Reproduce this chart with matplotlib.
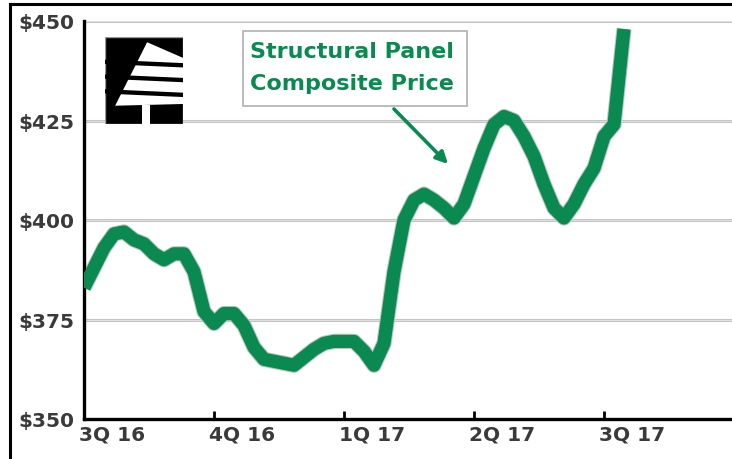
import matplotlib
matplotlib.use("Agg")
import matplotlib.pyplot as plt
import matplotlib.transforms as mtransforms
from matplotlib.patches import Polygon, Rectangle
from matplotlib.lines import Line2D

# weekly composite price, starting at 3Q 16
prices = [383, 388, 393, 396.5, 397, 395, 394, 391.5, 390, 391.5,
          391.5, 387, 377, 374, 376.5, 376.5, 373.5, 368, 365, 364.5,
          364, 363.5, 365.5, 367.5, 369, 369.5, 369.5, 369.5, 367, 363.5,
          369, 387, 400, 405, 406.5, 405, 403, 400.5, 404, 411,
          418, 424, 426, 425, 421, 416, 409, 403, 400.5, 404,
          409, 413, 421, 424, 448]
weeks = list(range(len(prices)))

quarter_weeks = [0, 13, 26, 39, 52]
quarter_labels = ["3Q 16", "4Q 16", "1Q 17", "2Q 17", "3Q 17"]
y_ticks = [350, 375, 400, 425, 450]
y_labels = ["$350", "$375", "$400", "$425", "$450"]

GREEN = "#0a8a50"
LABEL = "#3a3a3a"

fig = plt.figure(figsize=(7.32, 4.60), dpi=100)
ax = fig.add_axes([84 / 732, 40 / 460, 648 / 732, 398 / 460])

for y in y_ticks[1:]:
    ax.axhline(y, color="#c4c4c4", linewidth=2.2, zorder=1)
    ax.axhline(y, color="#e6e6e6", linewidth=0.6, zorder=1)

ax.plot(weeks, prices, color="#b8c8bc", linewidth=11, solid_capstyle="butt",
        solid_joinstyle="round", zorder=2)
ax.plot(weeks, prices, color=GREEN, linewidth=9.5, solid_capstyle="butt",
        solid_joinstyle="round", zorder=3)

ax.set_xlim(0, 64.8)
ax.set_ylim(350, 450)
for s in ["top", "right"]:
    ax.spines[s].set_visible(False)
for s in ["left", "bottom"]:
    ax.spines[s].set_linewidth(2.4)
    ax.spines[s].set_color("black")

ax.set_yticks(y_ticks)
ax.set_yticklabels(y_labels)
ax.set_xticks(quarter_weeks)
ax.set_xticklabels(quarter_labels)
ax.tick_params(axis="y", length=0, pad=7)
ax.tick_params(axis="x", direction="in", length=6, width=2, color="black", pad=4)
for lbl in ax.get_yticklabels() + ax.get_xticklabels():
    lbl.set_fontweight("bold")
    lbl.set_fontsize(14.5)
    lbl.set_color(LABEL)
shift = mtransforms.ScaledTranslation(-5 / 100, 0, fig.dpi_scale_trans)
for lbl in ax.get_xticklabels():
    lbl.set_horizontalalignment("left")
    lbl.set_transform(lbl.get_transform() + shift)

# callout label
fig.patches.append(Rectangle((243 / 732, 1 - 107 / 460), 224 / 732, 75 / 460,
                             transform=fig.transFigure, facecolor="white",
                             edgecolor="#b0b0b0", linewidth=1.2, zorder=5))
fig.text(250 / 732, 1 - 68 / 460, "Structural Panel\nComposite Price",
         color=GREEN, fontsize=16, fontweight="bold", va="center", ha="left",
         linespacing=1.75, zorder=6)
ax.annotate("", xy=(450 / 732, 1 - 167 / 460), xytext=(392 / 732, 1 - 108 / 460),
            xycoords="figure fraction", textcoords="figure fraction",
            arrowprops=dict(arrowstyle="-|>,head_length=0.7,head_width=0.35",
                            color=GREEN, linewidth=2.6))

# tree logo
lax = fig.add_axes([105 / 732, 1 - 125 / 460, 78 / 732, 87 / 460])
lax.set_xlim(0, 1)
lax.set_ylim(0, 1)
lax.axis("off")
lax.add_patch(Rectangle((0, 0), 1, 1, facecolor="black", edgecolor="#999999", linewidth=1))
lax.add_patch(Polygon([(0.54, 0.94), (0.13, 0.21), (1.0, 0.23), (1.0, 0.76)],
                      closed=True, facecolor="white", edgecolor="none"))
for yl, yr in [(0.74, 0.70), (0.57, 0.53), (0.40, 0.36)]:
    lax.add_patch(Polygon([(0.0, yl), (1.0, yr), (1.0, yr - 0.05), (0.0, yl - 0.05)],
                          closed=True, facecolor="black", edgecolor="none"))
lax.add_patch(Rectangle((0.48, 0.0), 0.1, 0.22, facecolor="white", edgecolor="none"))

# outer frame (top and left only)
fig.add_artist(Line2D([10 / 732, 1], [1 - 5 / 460, 1 - 5 / 460],
                      transform=fig.transFigure, color="black", linewidth=2.2))
fig.add_artist(Line2D([10 / 732, 10 / 732], [0, 1 - 5 / 460],
                      transform=fig.transFigure, color="black", linewidth=2.2))

fig.savefig("out.png", dpi=100)
